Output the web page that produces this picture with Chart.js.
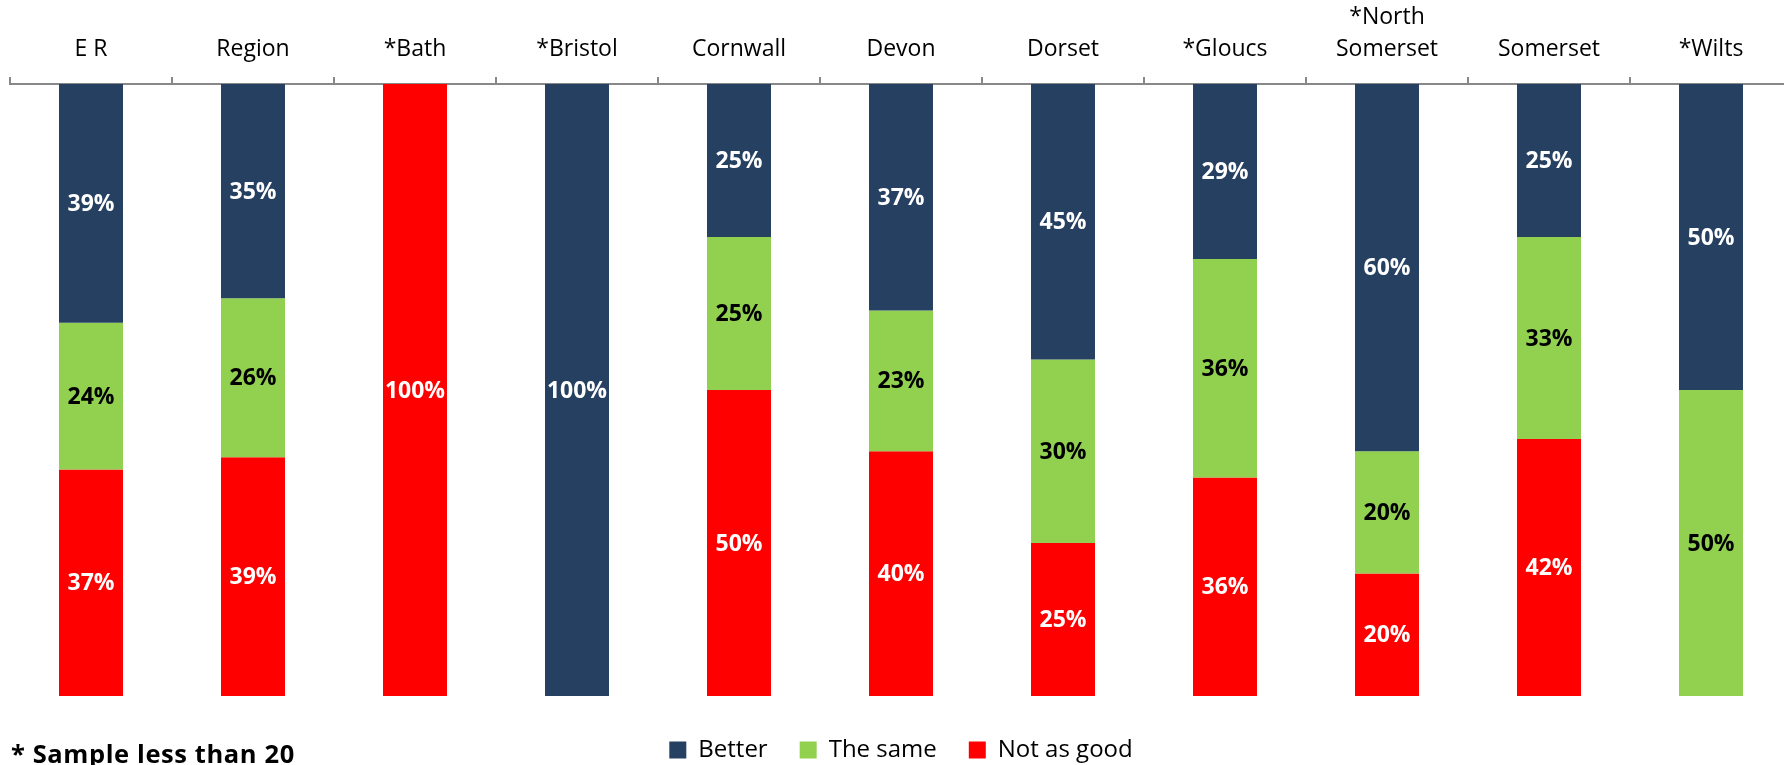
<!DOCTYPE html>
<html>
<head>
<meta charset="utf-8">
<script src="https://cdn.jsdelivr.net/npm/chart.js@4.4.0/dist/chart.umd.min.js"></script>
<style>
    body { margin: 0; overflow: hidden; background: #ffffff; }
    #wrap { position: relative; width: 1800px; height: 772px; }
    #note {
        position: absolute;
        left: 11px;
        top: 736px;
        font-family: "Open Sans", sans-serif;
        font-weight: bold;
        font-size: 25.5px;
        letter-spacing: 0.6px;
        color: #000000;
        white-space: nowrap;
    }
</style>
</head>
<body>
<div id="wrap">
    <canvas id="myChart"></canvas>
    <div id="note">* Sample less than 20</div>
</div>
<script>
const areas = ["E R", "Region", "*Bath", "*Bristol", "Cornwall", "Devon", "Dorset",
    "*Gloucs", ["*North", "Somerset"], "Somerset", "*Wilts"];
const better = [39, 35, 0, 100, 25, 37, 45, 28.6, 60, 25, 50];
const theSame = [24, 26, 0, 0, 25, 23, 30, 35.7, 20, 33, 50];
const notAsGood = [37, 39, 100, 0, 50, 40, 25, 35.7, 20, 42, 0];

// labels drawn in the middle of each segment
const segmentLabels = {
    id: "segmentLabels",
    afterDatasetsDraw(chart) {
        const ctx = chart.ctx;
        ctx.save();
        ctx.font = "bold 23px 'Open Sans'";
        ctx.textAlign = "center";
        ctx.textBaseline = "middle";
        chart.data.datasets.forEach((ds, di) => {
            const meta = chart.getDatasetMeta(di);
            meta.data.forEach((bar, i) => {
                const v = ds.data[i];
                if (!v) return;
                ctx.fillStyle = ds.labelColor;
                ctx.fillText(Math.round(v) + "%", bar.x, (bar.y + bar.base) / 2 + 1);
            });
        });
        ctx.restore();
    }
};

const data = {
    labels: areas,
    datasets: [
        { label: "Better", data: better, backgroundColor: "#264061", labelColor: "#ffffff" },
        { label: "The same", data: theSame, backgroundColor: "#92d050", labelColor: "#000000" },
        { label: "Not as good", data: notAsGood, backgroundColor: "#ff0000", labelColor: "#ffffff" }
    ]
};

const config = {
    type: "bar",
    data,
    options: {
        responsive: true,
        maintainAspectRatio: false,
        animation: false,
        categoryPercentage: 1,
        barPercentage: 0.395,
        layout: { padding: { left: 10, right: 8, top: 0, bottom: 0 } },
        scales: {
            x: {
                position: "top",
                stacked: true,
                grid: {
                    drawOnChartArea: false,
                    color: "#888888",
                    lineWidth: 2,
                    tickLength: 7
                },
                border: { color: "#888888", width: 2 },
                ticks: {
                    color: "#000000",
                    padding: 11,
                    maxRotation: 0,
                    autoSkip: false,
                    font: { family: "'Open Sans'", size: 23, lineHeight: 1.4 }
                },
                afterFit(scale) { scale.height = 84; }
            },
            x2: {
                position: "bottom",
                grid: { display: false },
                border: { display: false },
                ticks: { display: false },
                afterFit(scale) { scale.height = 10; }
            },
            y: {
                stacked: true,
                reverse: true,
                min: 0,
                max: 100,
                display: false
            }
        },
        plugins: {
            legend: {
                position: "bottom",
                labels: {
                    boxWidth: 17,
                    boxHeight: 17,
                    padding: 32,
                    color: "#000000",
                    font: { family: "'Open Sans'", size: 24 }
                }
            },
            title: { display: false },
            tooltip: { enabled: false }
        }
    },
    plugins: [segmentLabels]
};

const myChart = new Chart(document.getElementById("myChart"), config);
</script>
</body>
</html>
